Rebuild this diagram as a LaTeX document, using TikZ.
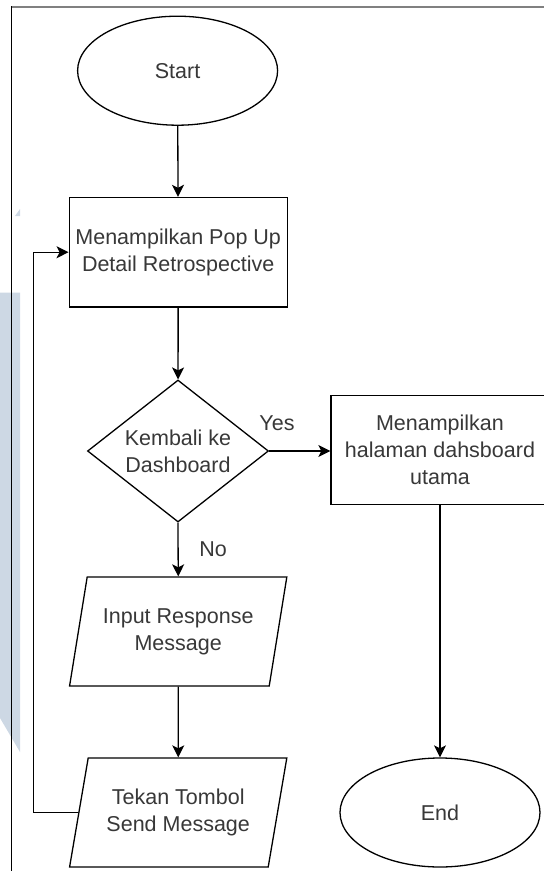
\documentclass[tikz,border=0pt]{standalone}
\usepackage{fontspec}
\setmainfont{Liberation Sans}
\usetikzlibrary{shapes.geometric,arrows.meta}
\definecolor{txt}{RGB}{56,56,56}
\definecolor{tint}{RGB}{205,216,228}
\definecolor{rule}{RGB}{128,128,128}
\begin{document}
\begin{tikzpicture}[x=1pt,y=-1pt,
  every node/.style={font=\fontsize{21.5}{26.7}\selectfont, text=txt, inner sep=0pt, align=center},
  outline/.style={draw=black, line width=1.3pt, fill=white},
  terminal/.style={outline, ellipse, minimum width=200pt, minimum height=109pt},
  process/.style={outline, rectangle, minimum width=218pt, minimum height=109.5pt},
  decision/.style={outline, diamond, aspect=1.27, minimum width=181pt, minimum height=142pt},
  io/.style={outline, trapezium, trapezium left angle=72.4, trapezium right angle=107.6,
             trapezium stretches=true, minimum width=217.6pt, minimum height=109pt},
  flow/.style={draw=black, line width=1.3pt, -{Stealth[length=12pt,width=12pt,inset=3pt]}},
  tag/.style={font=\fontsize{21.5}{26.7}\selectfont}
]
\useasboundingbox (0,0) rectangle (544,871);
\clip (0,0) rectangle (544,871);

% pale background marks on the left edge
\fill[tint] (0,292.7) -- (20,292.7) -- (20,752) -- (0,718) -- cycle;
\fill[tint] (20,209) -- (20,216) -- (15,216) -- cycle;

% page frame
\draw[rule, line width=2pt] (11.5,7.3) -- (544,7.3);
\draw[black, line width=1pt] (11.5,6.3) -- (11.5,871);

% flowchart nodes
\node[terminal] (start)  at (177.6,70.7) {Start};
\node[process]  (popup)  at (178.2,252.2) {Menampilkan Pop Up\\Detail Retrospective};
\node[decision] (decide) at (178,451) {Kembali ke\\Dashboard};
\node[process]  (home)   at (440,450) {Menampilkan\\halaman dahsboard\\utama};
\node[io]       (input)  at (178.2,631.5) {Input Response\\Message};
\node[io]       (send)   at (178.2,812.5) {Tekan Tombol\\Send Message};
\node[terminal] (finish) at (440,812.5) {End};

% branch labels
\node[tag] (yes) at (277,423) {Yes};
\node[tag] (no)  at (213,549) {No};

% return path column
\coordinate (loop) at (33.5,0);

% connectors
\draw[flow] (start) -- (popup);
\draw[flow] (popup) -- (decide);
\draw[flow] (decide.east) -- (decide.east -| home.west);
\draw[flow] (decide.south) -- (input.north);
\draw[flow] (input.south) -- (send.north);
\draw[flow] (home.south) -- (finish.north);
\draw[flow] (send.west) -- (send.west -| loop) |- (popup.west);
\end{tikzpicture}
\end{document}
